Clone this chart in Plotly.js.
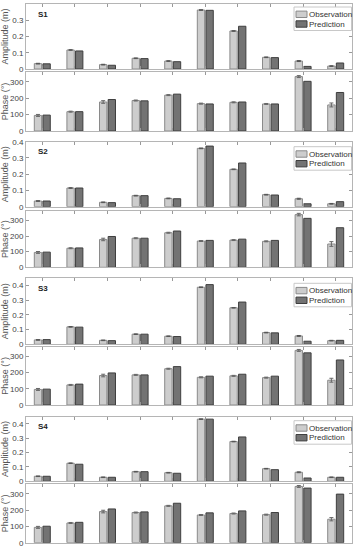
<!DOCTYPE html>
<html><head><meta charset="utf-8">
<script src="https://cdn.plot.ly/plotly-3.0.1.min.js"></script>
<style>html,body{margin:0;padding:0;background:#fff}#chart{width:360px;height:550px}</style>
</head><body><div id="chart"></div>
<script>
const categories = [1,2,3,4,5,6,7,8,9,10];
const stations = ["S1","S2","S3","S4"];
const legendNames = ["Observation","Prediction"];

const ampObsS1 = [0.033,0.117,0.027,0.066,0.049,0.363,0.234,0.072,0.049,0.018];
const ampPredS1 = [0.032,0.111,0.023,0.064,0.045,0.361,0.263,0.070,0.016,0.037];
const phObsS1 = [95,118,177,186,219,167,175,165,332,159];
const phPredS1 = [97,118,192,184,225,165,177,165,303,235];

const ampObsS2 = [0.035,0.115,0.027,0.068,0.051,0.359,0.230,0.074,0.049,0.018];
const ampPredS2 = [0.035,0.115,0.025,0.068,0.049,0.373,0.269,0.072,0.018,0.031];
const phObsS2 = [95,122,178,186,221,168,174,166,337,149];
const phPredS2 = [97,124,197,186,232,172,180,172,313,253];

const ampObsS3 = [0.030,0.119,0.027,0.069,0.055,0.389,0.249,0.080,0.057,0.025];
const ampPredS3 = [0.032,0.117,0.025,0.069,0.053,0.407,0.288,0.078,0.021,0.027];
const phObsS3 = [96,124,182,186,224,171,180,169,337,153];
const phPredS3 = [98,129,198,186,237,178,190,178,322,278];

const ampObsS4 = [0.035,0.126,0.028,0.067,0.060,0.433,0.277,0.088,0.063,0.028];
const ampPredS4 = [0.035,0.119,0.028,0.067,0.056,0.433,0.309,0.081,0.023,0.028];
const phObsS4 = [94,121,191,185,226,170,179,172,345,144];
const phPredS4 = [101,125,207,189,242,183,195,185,335,298];

const ampErrObs = [0.002,0.002,0.002,0.002,0.002,0.002,0.002,0.002,0.003,0.002];
const phErrObsS1 = [6,3,8,3,3,3,3,3,6,12];
const phErrObsS2 = [6,3,8,3,3,3,3,3,8,15];
const phErrObsS3 = [6,3,8,3,3,3,3,3,6,12];
const phErrObsS4 = [6,3,8,3,3,3,3,3,6,10];

const ampMax = [0.4,0.4,0.45,0.45];
const phaseMax = 360;

const groups = [
  {amp:[ampObsS1,ampPredS1], ph:[phObsS1,phPredS1], phErr:phErrObsS1},
  {amp:[ampObsS2,ampPredS2], ph:[phObsS2,phPredS2], phErr:phErrObsS2},
  {amp:[ampObsS3,ampPredS3], ph:[phObsS3,phPredS3], phErr:phErrObsS3},
  {amp:[ampObsS4,ampPredS4], ph:[phObsS4,phPredS4], phErr:phErrObsS4}
];

const H = 550, L = 26, PW = 326;
const ampPx = [[4,69],[141.7,206.7],[278.3,344.3],[416.7,481.3]];
const phPx = [[72,131],[211,267.3],[346.7,405],[484,542.7]];
const legendTop = [7,146.7,283.3,420.7];
const dom = p => [1 - p[1]/H, 1 - p[0]/H];
const px2x = v => (v - L)/PW;
const px2y = v => 1 - v/H;

const fills = ['#cdcdcd','#737373'];
const lines = ['#8a8a8a','#3f3f3f'];

const traces = [];
const layout = {
  width:360, height:550,
  margin:{l:L,r:8,t:0,b:0},
  paper_bgcolor:'#fff', plot_bgcolor:'#fff',
  barmode:'group', bargap:0.47, bargroupgap:0.15,
  showlegend:false,
  font:{family:'Liberation Sans, Arial, sans-serif', size:8, color:'#444'},
  annotations:[], shapes:[]
};

const axisCommon = {
  showline:true, mirror:'ticks', linecolor:'#b5b5b5', linewidth:1,
  ticks:'inside', ticklen:3, tickcolor:'#999', showgrid:false, zeroline:false,
  tickfont:{size:8,color:'#444'}
};

groups.forEach((g,i) => {
  const ia = 2*i+1, ip = 2*i+2;
  const xa = ia===1?'x':'x'+ia, ya = ia===1?'y':'y'+ia;
  const xp = 'x'+ip, yp = 'y'+ip;
  for (let k=0;k<2;k++){
    traces.push({
      type:'bar', x:categories, y:g.amp[k], xaxis:xa, yaxis:ya,
      name:legendNames[k],
      marker:{color:fills[k], line:{color:lines[k], width:1}},
      error_y: k===0 ? {type:'data', array:ampErrObs, color:'#555', thickness:1, width:2} : {visible:false},
      hoverinfo:'skip'
    });
  }
  for (let k=0;k<2;k++){
    traces.push({
      type:'bar', x:categories, y:g.ph[k], xaxis:xp, yaxis:yp,
      name:legendNames[k],
      marker:{color:fills[k], line:{color:lines[k], width:1}},
      error_y: k===0 ? {type:'data', array:g.phErr, color:'#666', thickness:1, width:2} : {visible:false},
      hoverinfo:'skip'
    });
  }
  layout['xaxis'+(ia===1?'':ia)] = Object.assign({}, axisCommon, {
    domain:[0,1], anchor:ya, range:[0.5,10.5], tickvals:categories, showticklabels:false
  });
  layout['xaxis'+ip] = Object.assign({}, axisCommon, {
    domain:[0,1], anchor:yp, range:[0.5,10.5], tickvals:categories, showticklabels:false
  });
  layout['yaxis'+(ia===1?'':ia)] = Object.assign({}, axisCommon, {
    domain:dom(ampPx[i]), anchor:xa, range:[0,ampMax[i]], dtick:0.1, automargin:false,
    title:{text:'Amplitude (m)', font:{size:9,color:'#555'}, standoff:2}
  });
  layout['yaxis'+ip] = Object.assign({}, axisCommon, {
    domain:dom(phPx[i]), anchor:xp, range:[0,phaseMax], dtick:100, automargin:false,
    title:{text:'Phase (°)', font:{size:9,color:'#555'}, standoff:2}
  });
  // legend box drawn with shapes + annotations
  const t = legendTop[i];
  layout.shapes.push({type:'rect', xref:'paper', yref:'paper',
    x0:px2x(294), x1:px2x(351.5), y0:px2y(t+23.5), y1:px2y(t),
    fillcolor:'#fff', line:{color:'#c8c8c8', width:1}});
  for (let k=0;k<2;k++){
    const cy = t + 7.3 + k*9.7;
    layout.shapes.push({type:'rect', xref:'paper', yref:'paper',
      x0:px2x(296), x1:px2x(307), y0:px2y(cy+3.2), y1:px2y(cy-3.2),
      fillcolor:fills[k], line:{color:lines[k], width:1}});
    layout.annotations.push({xref:'paper', yref:'paper', x:px2x(306.5), y:px2y(cy),
      xanchor:'left', yanchor:'middle', showarrow:false, text:legendNames[k],
      font:{size:8,color:'#333'}});
  }
  layout.annotations.push({
    xref:'paper', yref:'paper', x:0.03, y:1 - (ampPx[i][0]+10)/H,
    xanchor:'left', yanchor:'middle', showarrow:false,
    text:'<b>'+stations[i]+'</b>', font:{size:8,color:'#222'}
  });
});

Plotly.newPlot('chart', traces, layout, {staticPlot:true, displayModeBar:false});
</script>
</body></html>
